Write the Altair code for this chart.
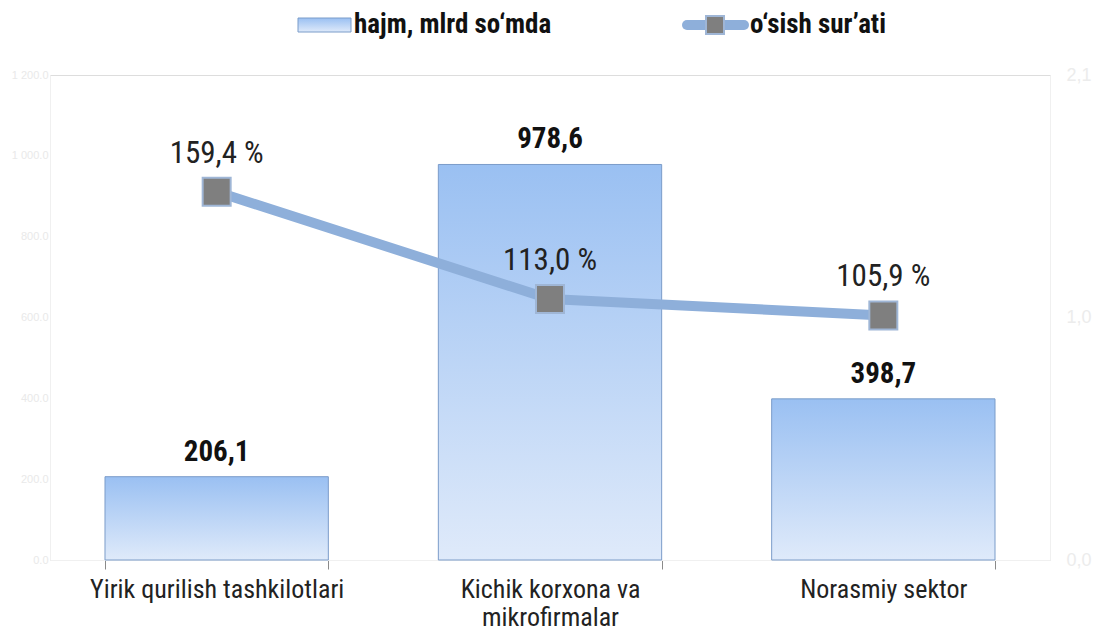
import altair as alt
import pandas as pd

categories = ["Yirik qurilish tashkilotlari", "Kichik korxona va mikrofirmalar", "Norasmiy sektor"]
volume = [206.1, 978.6, 398.7]
growth = [159.4, 113.0, 105.9]
left_ticks = [0, 200, 400, 600, 800, 1000, 1200]
right_ticks = [0, 105, 210]
legend_bar = "hajm, mlrd so‘mda"
legend_line = "o‘sish sur’ati"

df = pd.DataFrame({"cat": categories, "vol": volume, "gr": growth})
one = pd.DataFrame({"k": [0]})

FONT = "'Liberation Sans Narrow', 'Roboto Condensed', 'DejaVu Sans Condensed', Roboto, sans-serif"

grad = alt.Gradient(
    gradient="linear",
    stops=[alt.GradientStop(color="#9ac0f2", offset=0), alt.GradientStop(color="#dfeafa", offset=1)],
    x1=0, x2=0, y1=0, y2=1,
)
LINE_COLOR = "#8eafda"

x = alt.X(
    "cat:N", sort=categories, title=None,
    scale=alt.Scale(paddingInner=0.33, paddingOuter=0.165),
    axis=alt.Axis(
        labelAngle=0, labelFontSize=26, labelColor="#222222", labelFont=FONT,
        labelPadding=7, labelLimit=400, labelLineHeight=28,
        tickBand="extent", tickSize=9, tickColor="#8a8a8a", tickOffset=0,
        domainColor="#f0f0f0",
        labelExpr="datum.label == 'Kichik korxona va mikrofirmalar' ? ['Kichik korxona va', 'mikrofirmalar'] : datum.label",
    ),
)

base = alt.Chart(df)

yl = alt.Y(
    "vol:Q", title=None,
    scale=alt.Scale(domain=[0, 1200], nice=False),
    axis=alt.Axis(values=left_ticks, labelColor="#e9e9e9", labelFontSize=11, grid=False,
                  ticks=False, domainColor="#f0f0f0",
                  labelExpr="replace(format(datum.value, ',.1f'), ',', ' ')"),
)
bars = base.mark_bar(color=grad, stroke="#7b9cc9", strokeWidth=1).encode(x=x, y=yl)
bar_text = base.transform_calculate(
    lbl="replace(format(datum.vol, '.1f'), '.', ',')"
).mark_text(baseline="middle", dy=-25, fontSize=29, fontWeight="bold", font=FONT, color="#111111").encode(
    x=x, y="vol:Q", text="lbl:N"
)

yr = alt.Y(
    "gr:Q", title=None,
    scale=alt.Scale(domain=[0, 210], nice=False),
    axis=alt.Axis(orient="right", values=right_ticks, labelColor="#ececec", labelFontSize=18, grid=False,
                  ticks=False, domainColor="#f0f0f0", labelPadding=16,
                  labelExpr="datum.value == 0 ? '0,0' : (datum.value < 200 ? '1,0' : '2,1')"),
)
line = base.mark_line(color=LINE_COLOR, strokeWidth=10).encode(x=x, y=yr)
points = base.mark_point(shape="square", filled=True, size=784, color="#7f7f7f",
                         stroke="#9fb6d6", strokeWidth=2, opacity=1).encode(x=x, y="gr:Q")
line_text = base.transform_calculate(
    lbl="replace(format(datum.gr, '.1f'), '.', ',') + ' %'"
).mark_text(baseline="middle", dy=-38, fontSize=31, font=FONT, color="#222222").encode(
    x=x, y="gr:Q", text="lbl:N"
)

leg = alt.Chart(one)
leg_rect = leg.mark_rect(color=grad, stroke="#7b9cc9", strokeWidth=1).encode(
    x=alt.value(248), x2=alt.value(301), y=alt.value(-57), y2=alt.value(-43))
leg_t1 = leg.mark_text(align="left", baseline="middle", fontSize=27, fontWeight="bold", font=FONT,
                       color="#111111").encode(x=alt.value(304), y=alt.value(-50), text=alt.value(legend_bar))
leg_line = leg.mark_rule(color=LINE_COLOR, strokeWidth=10, strokeCap="round").encode(
    x=alt.value(637), x2=alt.value(694), y=alt.value(-50))
leg_pt = leg.mark_point(shape="square", filled=True, size=324, color="#7f7f7f", stroke="#9fb6d6",
                        strokeWidth=2, opacity=1).encode(x=alt.value(665), y=alt.value(-50))
leg_t2 = leg.mark_text(align="left", baseline="middle", fontSize=27, fontWeight="bold", font=FONT,
                       color="#111111").encode(x=alt.value(700), y=alt.value(-50), text=alt.value(legend_line))

chart = alt.layer(
    alt.layer(bars, bar_text),
    alt.layer(line, points, line_text),
    leg_rect, leg_t1, leg_line, leg_pt, leg_t2,
).resolve_scale(y="independent").properties(
    width=1000, height=485,
    autosize=alt.AutoSizeParams(type="none"),
    padding={"left": 42, "top": 67, "right": 48, "bottom": 71},
).configure_view(stroke="#f0f0f0").configure(background="white")

chart.save("out.html", embed_options={"renderer": "svg", "actions": False})
